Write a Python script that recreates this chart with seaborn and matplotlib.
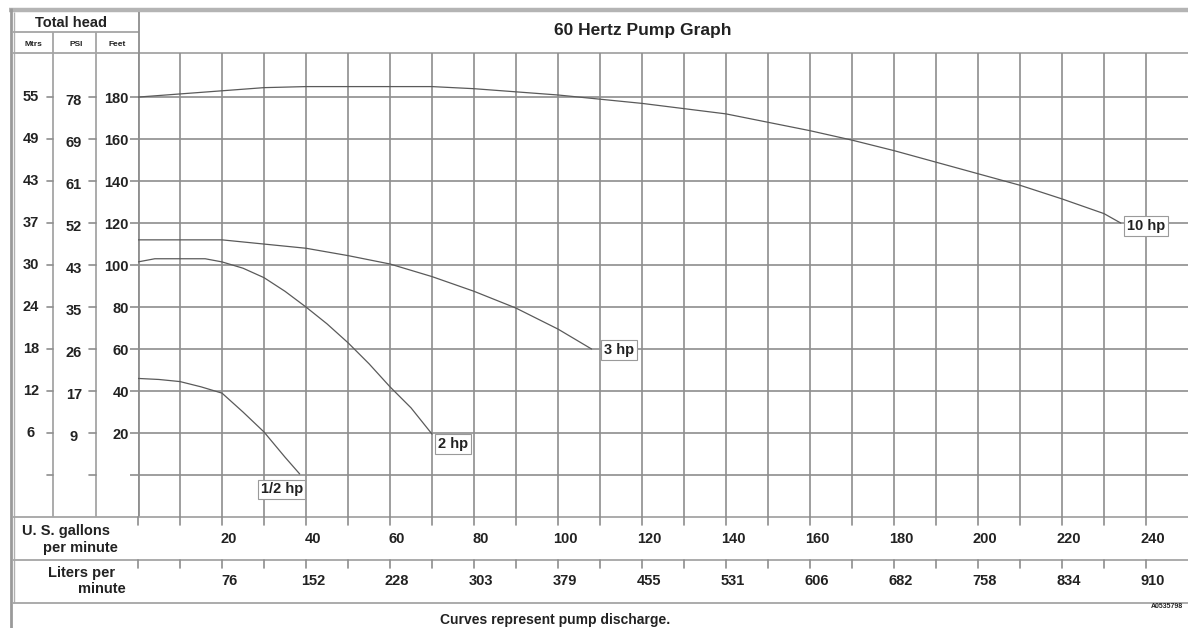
import numpy as np
import pandas as pd
import matplotlib
matplotlib.use("Agg")
import matplotlib.pyplot as plt
import seaborn as sns
from matplotlib import transforms as mtrans
from matplotlib import font_manager as fm

# ---------------- data ----------------
gpm_10hp = [0, 10, 20, 30, 40, 50, 60, 70, 80, 90, 100, 110, 120, 130, 140, 150, 160, 170, 180, 190, 200, 210, 220, 230, 234]
head_10hp = [180, 181.5, 183, 184.5, 185, 185, 185, 185, 184, 182.5, 181, 179, 177, 174.5, 172, 168, 164, 159.5, 154.5, 149, 143.5, 138, 131.5, 124.5, 120]

gpm_3hp = [0, 10, 20, 30, 40, 50, 60, 70, 80, 90, 100, 108]
head_3hp = [112, 112, 112, 110, 108, 104.5, 100.5, 94.5, 87.5, 79.5, 69.5, 60]

gpm_2hp = [0, 4, 10, 16, 20, 25, 30, 35, 40, 45, 50, 55, 60, 65, 70]
head_2hp = [101.5, 103, 103, 103, 101.5, 98.5, 94, 87.5, 80, 72, 63, 53, 42, 32, 19.5]

gpm_half = [0, 5, 10, 15, 20, 25, 30, 35, 38.5]
head_half = [46, 45.5, 44.5, 42, 39, 30, 20.5, 8.5, 0.5]

curve_names = ["10 hp", "3 hp", "2 hp", "1/2 hp"]
label_gpm = [240, 114.5, 75, 34.2]
label_head = [118.6, 59.5, 14.8, -6.9]

feet_ticks = [0, 20, 40, 60, 80, 100, 120, 140, 160, 180]
feet_labels = ["", "20", "40", "60", "80", "100", "120", "140", "160", "180"]
mtrs_labels = ["", "6", "12", "18", "24", "30", "37", "43", "49", "55"]
psi_labels = ["", "9", "17", "26", "35", "43", "52", "61", "69", "78"]

gpm_ticks = [20, 40, 60, 80, 100, 120, 140, 160, 180, 200, 220, 240]
lpm_labels = ["76", "152", "228", "303", "379", "455", "531", "606", "682", "758", "834", "910"]

df = pd.concat([
    pd.DataFrame({"gpm": g, "head": h, "pump": n})
    for g, h, n in zip([gpm_10hp, gpm_3hp, gpm_2hp, gpm_half],
                       [head_10hp, head_3hp, head_2hp, head_half],
                       curve_names)
], ignore_index=True)

# ---------------- style ----------------
sns.set_theme(style="white")
avail = {f.name for f in fm.fontManager.ttflist}
fam = [f for f in ["Liberation Sans Narrow", "Liberation Sans", "DejaVu Sans"] if f in avail]
plt.rcParams["font.family"] = fam
plt.rcParams["font.weight"] = "bold"

W, H = 1188, 628
fig = plt.figure(figsize=(W / 100, H / 100), dpi=100)
fig.patch.set_facecolor("white")
L, R, T, B = 138, 1188, 53, 517

frame = fig.add_axes([0, 0, 1, 1], zorder=0)
frame.set_xlim(0, W)
frame.set_ylim(H, 0)
frame.axis("off")

ax = fig.add_axes([L / W, 1 - B / H, (R - L) / W, (B - T) / H], zorder=1)
ax.set_facecolor("none")
ax.set_xlim(0, 250)
ax.set_ylim(-20, 201)

grid_c = "#8e8e8e"
line_c = "#a5a5a5"
txt_c = "#222222"

# grid
ax.set_xticks(np.arange(0, 250, 10))
ax.set_yticks(feet_ticks)
ax.set_yticklabels(feet_labels)
ax.grid(True, color=grid_c, lw=1.2)
ax.tick_params(axis="x", bottom=False, labelbottom=False)
ax.tick_params(axis="y", left=True, length=6, width=1.2, color=grid_c, pad=0.5,
               labelsize=10.5, labelcolor=txt_c)
for s in ax.spines.values():
    s.set_visible(False)

# curves
sns.lineplot(data=df, x="gpm", y="head", units="pump", estimator=None, sort=False,
             color="#5a5a5a", lw=0.9, ax=ax, legend=False)
ax.set_xlabel("")
ax.set_ylabel("")

for n, x, y in zip(curve_names, label_gpm, label_head):
    ax.text(x, y, n, ha="center", va="center", fontsize=10.5, color=txt_c, zorder=5,
            bbox=dict(boxstyle="square,pad=0.18", fc="white", ec="#9a9a9a", lw=0.8))

# frame lines (pixel coordinates)
def hl(y, x0, x1, lw=1.3, c=line_c):
    frame.plot([x0, x1], [y, y], color=c, lw=lw, solid_capstyle="butt")

def vl(x, y0, y1, lw=1.3, c=line_c):
    frame.plot([x, x], [y0, y1], color=c, lw=lw, solid_capstyle="butt")

hl(10, 9, W, lw=3.2, c="#b4b4b4")
vl(10.5, 8, H, lw=2.0, c="#9a9a9a")
vl(13.5, 12, 603, lw=1.0, c="#b0b0b0")
hl(32, 13, 139)
hl(53, 13, W)
vl(53, 32, 517)
vl(96, 32, 517)
vl(139, 12, 517, c=grid_c, lw=1.3)
hl(517, 13, W)
hl(560, 13, W)
hl(603, 13, W)

# left head columns tied to the feet scale
blend_y = mtrans.blended_transform_factory(frame.transData, ax.transData)
for f, m, p in zip(feet_ticks, mtrs_labels, psi_labels):
    ax.plot([47, 53], [f, f], transform=blend_y, color=grid_c, lw=1.2, clip_on=False)
    ax.plot([89, 96], [f, f], transform=blend_y, color=grid_c, lw=1.2, clip_on=False)
    if m:
        ax.text(31, f, m, transform=blend_y, ha="center", va="center", fontsize=10.5, color=txt_c)
        ax.text(74, f - 2, p, transform=blend_y, ha="center", va="center", fontsize=10.5, color=txt_c)

# bottom rows tied to the gpm scale
blend_x = mtrans.blended_transform_factory(ax.transData, frame.transData)
for g in np.arange(0, 250, 10):
    ax.plot([g, g], [517, 525], transform=blend_x, color=grid_c, lw=1.2, clip_on=False)
    ax.plot([g, g], [560, 568], transform=blend_x, color=grid_c, lw=1.2, clip_on=False)
off = mtrans.ScaledTranslation(7 / 100, 0, fig.dpi_scale_trans)
for g, l in zip(gpm_ticks, lpm_labels):
    ax.text(g, 539, str(g), transform=blend_x + off, ha="center", va="center", fontsize=10.5, color=txt_c)
    ax.text(g, 581, l, transform=blend_x + off, ha="center", va="center", fontsize=10.5, color=txt_c)

# texts
frame.text(71, 23, "Total head", ha="center", va="center", fontsize=10.5, color=txt_c)
frame.text(33, 44, "Mtrs", ha="center", va="center", fontsize=6, color=txt_c)
frame.text(76, 44, "PSI", ha="center", va="center", fontsize=6, color=txt_c)
frame.text(117, 44, "Feet", ha="center", va="center", fontsize=6, color=txt_c)
frame.text(643, 30, "60 Hertz Pump Graph", ha="center", va="center", fontsize=12.5, color=txt_c)
frame.text(22, 531, "U. S. gallons", ha="left", va="center", fontsize=10.5, color=txt_c)
frame.text(118, 548, "per minute", ha="right", va="center", fontsize=10.5, color=txt_c)
frame.text(115, 573, "Liters per", ha="right", va="center", fontsize=10.5, color=txt_c)
frame.text(126, 589, "minute", ha="right", va="center", fontsize=10.5, color=txt_c)
frame.text(555, 620, "Curves represent pump discharge.", ha="center", va="center", fontsize=10, color=txt_c)
frame.text(1183, 607, "A0535798", ha="right", va="center", fontsize=5, color=txt_c)

fig.savefig("out.png", dpi=100, facecolor="white")
